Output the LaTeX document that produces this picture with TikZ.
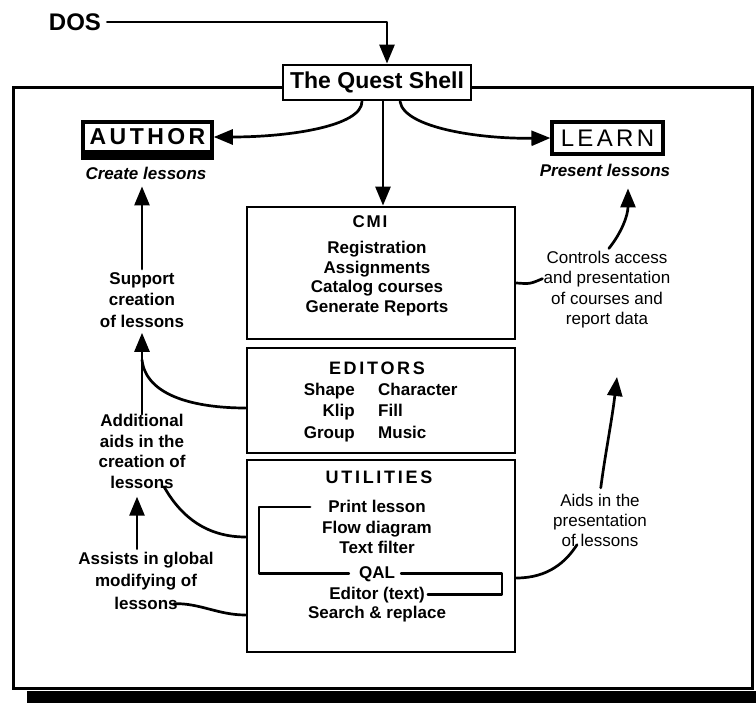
\documentclass[tikz,border=0pt]{standalone}
\usepackage{fontspec}
\setmainfont{Liberation Sans}
\usetikzlibrary{arrows.meta,calc}
\begin{document}
\begin{tikzpicture}[x=1pt,y=-1pt,
  line/.style={line width=2.7pt, line cap=round, line join=round},
  arr/.style={line, -{Triangle[length=19pt,width=15pt]}},
  box/.style={draw, line width=2.8pt, inner sep=0pt, fill=white},
  txt/.style={inner sep=0pt, align=center, font=\bfseries\fontsize{17}{19.5}\selectfont},
  lbl/.style={inner sep=0pt, align=center},
  head/.style={inner sep=0pt, font=\bfseries\fontsize{18}{18}\selectfont\addfontfeature{LetterSpace=15}},
  ital/.style={inner sep=0pt, font=\bfseries\itshape\fontsize{17}{17}\selectfont},
]
\fill[white] (0,0) rectangle (756,703);
\useasboundingbox (0,0) rectangle (756,703);

% outer frame and bottom bar
\draw[line width=3pt] (13,88) rectangle (752,688);
\fill (27,691) rectangle (756,703);

% top nodes
\node[inner sep=0pt, font=\bfseries\fontsize{24}{24}\selectfont] (dos) at (75,22) {DOS};
\node[box, minimum width=188pt, minimum height=35pt, font=\bfseries\fontsize{23}{23}\selectfont] (shell) at (377,82.5) {The Quest Shell};

\node[box, line width=3.5pt, minimum width=129pt, minimum height=30pt,
      font=\bfseries\fontsize{23}{23}\selectfont\addfontfeature{LetterSpace=15}] (author) at (147.5,137) {AUTHOR};
\fill (author.south west) rectangle ($(author.south east)+(0,6)$);
\node[ital] (create) at (146,173) {Create lessons};

\node[box, line width=3.2pt, minimum width=111pt, minimum height=32pt,
      font=\fontsize{24}{24}\selectfont\addfontfeature{LetterSpace=14}] (learn) at (607.5,138) {LEARN};
\node[ital] (present) at (605,170) {Present lessons};

% central boxes
\node[box, minimum width=268pt, minimum height=132pt] (cmi) at (381,273) {};
\node[box, minimum width=268pt, minimum height=105pt] (editors) at (381,400.5) {};
\node[box, minimum width=268pt, minimum height=192pt] (utilities) at (381,556) {};

\node[head, font=\bfseries\fontsize{17}{17}\selectfont\addfontfeature{LetterSpace=10}] (cmih) at (370,222) {CMI};
\node[txt, anchor=north] (cmib) at (377,241) {Registration\\Assignments\\Catalog courses\\Generate Reports};

\node[head] (edh) at (377,368) {EDITORS};
\node[txt, align=right, anchor=north east, font=\bfseries\fontsize{17}{21.5}\selectfont] (edl) at (355,382.5) {Shape\\Klip\\Group};
\node[txt, align=left, anchor=north west, font=\bfseries\fontsize{17}{21.5}\selectfont] (edr) at (378,382.5) {Character\\Fill\\Music};

\node[head] (uth) at (379,477) {UTILITIES};
\node[txt, anchor=base] (u1) at (377,513) {Print lesson};
\node[txt, anchor=base] (u2) at (377,533) {Flow diagram};
\node[txt, anchor=base] (u3) at (377,554) {Text filter};
\node[txt, anchor=base] (u4) at (377,578) {QAL};
\node[txt, anchor=base] (u5) at (377,599) {Editor (text)};
\node[txt, anchor=base] (u6) at (377,619) {Search \& replace};

% side labels
\node[lbl, anchor=north, font=\bfseries\fontsize{17}{21.7}\selectfont] (support) at (142,272) {Support\\creation\\of lessons};
\node[lbl, anchor=north, font=\bfseries\fontsize{17}{20.5}\selectfont] (additional) at (142,414.3) {Additional\\aids in the\\creation of\\lessons};
\node[lbl, anchor=north, font=\bfseries\fontsize{17}{22.5}\selectfont] (assists) at (146,551.8) {Assists in global\\modifying of\\lessons};
\node[lbl, anchor=north, font=\fontsize{17}{20.5}\selectfont] (controls) at (607,250.8) {Controls access\\and presentation\\of courses and\\report data};
\node[lbl, anchor=north, font=\fontsize{17}{20}\selectfont] (aids) at (600,493.8) {Aids in the\\presentation\\of lessons};
\coordinate (aidstip) at (617,377);

% connectors from the top
\draw[arr, shorten <=6pt] (dos.east) -| ([xshift=10pt]shell.north);
\draw[arr] ([xshift=-15pt]shell.south) .. controls (362,126) and (290,137) .. (author.east);
\draw[arr] ([xshift=6pt]shell.south) -- ([xshift=6pt]shell.south |- cmi.north);
\draw[arr] ([xshift=23pt]shell.south) .. controls (404,128) and (480,139) .. (learn.west);

% left side
\draw[arr, shorten >=7pt, shorten <=3pt] (support.north) -- (support.north |- create.south);
\draw[arr, shorten >=5pt] (additional.north) -- (support.south);
\draw[line] (editors.west |- 0,408) .. controls (195,408) and (146,396) .. ($(support.south)+(0,32)$);
\draw[line] (utilities.west |- 0,537) .. controls (205,537) and (180,515) .. ($(additional.south)+(22,-2)$);
\draw[arr, shorten >=8pt, shorten <=3pt] ([xshift=-9pt]assists.north) -- ([xshift=-9pt]assists.north |- additional.south);
\draw[line] (utilities.west |- 0,615) .. controls (218,615) and (200,603) .. ($(assists.south)+(28,-6)$);

% brackets in UTILITIES
\coordinate (bl) at (259,0);
\coordinate (br) at (502,0);
\draw[line] ([xshift=-18pt]u1.west) -| (bl |- u4.west) -- ([xshift=-10pt]u4.west);
\draw[line] ([xshift=6pt]u4.east) -| (br |- u5.east) -- ([xshift=3pt]u5.east);

% right side
\draw[line] (cmi.east |- 0,283) .. controls (530,284) .. ($(controls.west)+(-1,-11)$);
\draw[arr, shorten <=3pt] (controls.north) .. controls (622,232) and (628,215) .. ($(present.south)+(23,12)$);
\draw[arr, shorten <=6pt] (aids.north) .. controls (605,455) and (612,420) .. (aidstip);
\draw[line] (utilities.east |- 0,578) .. controls (548,578) and (566,562) .. ($(aids.south west)+(24,-2)$);
\end{tikzpicture}
\end{document}
